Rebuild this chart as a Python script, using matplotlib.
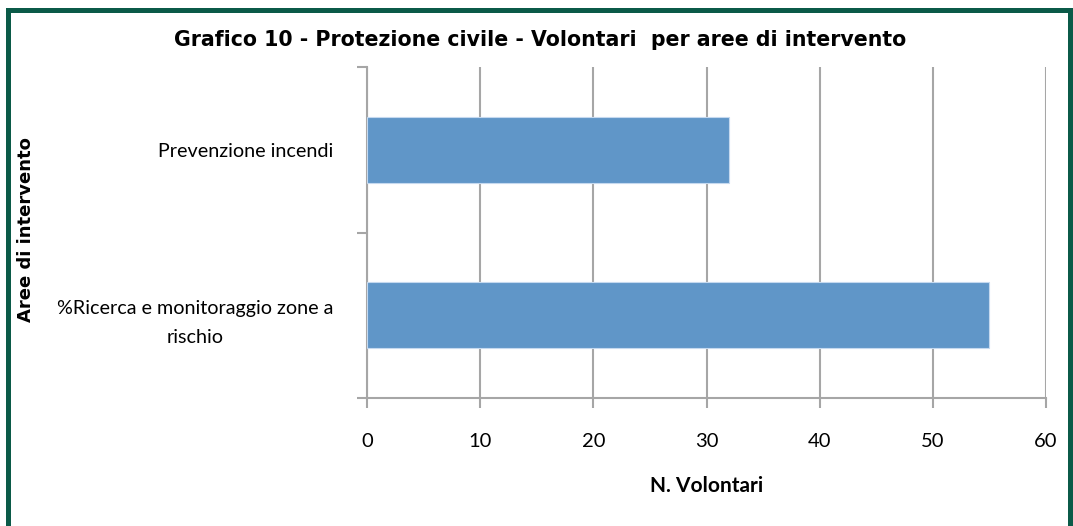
import matplotlib
matplotlib.use("Agg")
import matplotlib.pyplot as plt
from matplotlib.lines import Line2D

categories = ["%Ricerca e monitoraggio zone a\nrischio", "Prevenzione incendi"]
values = [55, 32]
xticks = [0, 10, 20, 30, 40, 50, 60]

title = "Grafico 10 - Protezione civile - Volontari  per aree di intervento"
xlabel = "N. Volontari"
ylabel = "Aree di intervento"

W, H = 1073, 526
fig = plt.figure(figsize=(W / 100, H / 100), dpi=100)
ax = fig.add_axes([367 / W, 1 - 398 / H, (1046 - 367) / W, (398 - 67) / H])

grid_c = "#a6a6a6"
bar_c = "#6096c8"
tick_font = "Lato"

ypos = list(range(len(categories)))
ax.barh(ypos, values, height=0.4, color=bar_c, edgecolor="#c5d9ef", linewidth=0.8, zorder=3)

ax.set_xlim(0, 60)
ax.set_ylim(-0.5, len(categories) - 0.5)
ax.set_xticks(xticks)
ax.set_xticklabels([str(t) for t in xticks], fontsize=14.5, family=tick_font)
ax.xaxis.grid(True, color=grid_c, linewidth=1.5, zorder=0)
ax.tick_params(axis="x", length=7, width=1.5, color=grid_c, pad=18)

ax.set_yticks([-0.5, 0.5, 1.5])
ax.set_yticklabels([])
ax.set_yticks(ypos, minor=True)
ax.set_yticklabels(categories, minor=True, fontsize=14.2, family=tick_font,
                   multialignment="center", linespacing=1.85)
ax.tick_params(axis="y", which="major", length=7, width=1.5, color=grid_c)
ax.tick_params(axis="y", which="minor", length=0, pad=24)

for s in ["top", "right"]:
    ax.spines[s].set_visible(False)
for s in ["left", "bottom"]:
    ax.spines[s].set_color(grid_c)
    ax.spines[s].set_linewidth(1.5)

ax.set_xlabel(xlabel, fontsize=15, fontweight="bold", family=tick_font, labelpad=19)
fig.text(26 / W, 1 - 230 / H, ylabel, rotation=90, ha="center", va="center",
         fontsize=13, fontweight="bold", family="DejaVu Sans")

fig.text(540 / W, 1 - 40 / H, title, ha="center", va="center",
         fontsize=14.8, fontweight="bold", family="DejaVu Sans")

border_c = "#0b5a48"
lw = 5 * 72 / 100
x0, x1 = 7.5 / W, 1070 / W
y0, y1 = 1 - 9.5 / H, -0.05
fig.add_artist(Line2D([x0, x0, x1, x1], [y1, y0, y0, y1], color=border_c,
                      linewidth=lw, transform=fig.transFigure, solid_joinstyle="miter"))

fig.savefig("out.png", dpi=100)
